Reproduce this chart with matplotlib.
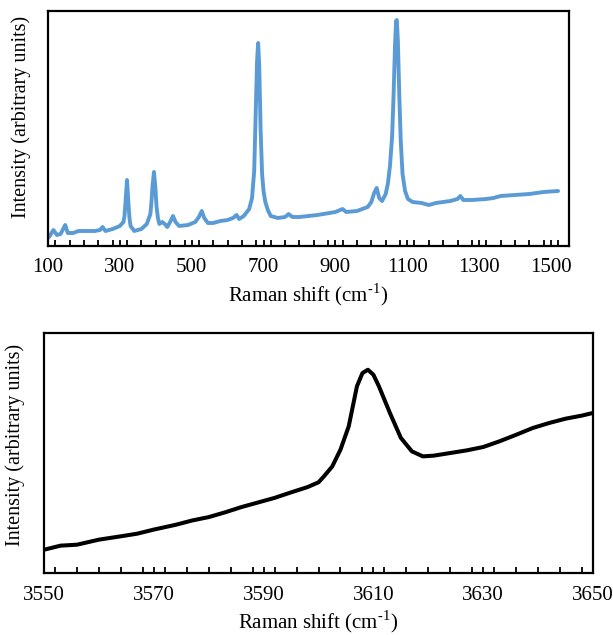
import numpy as np
import matplotlib
matplotlib.use('Agg')
import matplotlib.pyplot as plt
from matplotlib.ticker import MultipleLocator

# top spectrum (arbitrary units)
shift_lo = [100, 105, 115, 125, 135, 148, 155, 170, 185, 200, 230, 245, 252, 260,
            280, 300, 310, 313, 316, 320, 324, 327, 330, 340, 360, 375, 385, 388, 391,
            395, 399, 402, 406, 410, 418, 425, 432, 440, 448, 455, 465, 490, 510, 520,
            528, 535, 545, 560, 580, 600, 615, 625, 632, 645, 660, 668, 674, 678, 682,
            685, 688, 692, 696, 700, 705, 712, 720, 740, 760, 770, 780, 800, 850, 900,
            920, 930, 960, 990, 1000, 1008, 1015, 1022, 1030, 1040, 1046, 1052, 1058,
            1062, 1066, 1069, 1071, 1074, 1078, 1082, 1087, 1094, 1102, 1115, 1140,
            1160, 1180, 1220, 1240, 1248, 1256, 1280, 1320, 1340, 1360, 1400, 1440,
            1480, 1520]
int_lo = [8, 10, 16, 11, 12, 21, 13, 13, 15, 15, 15, 16, 19, 15,
          17, 20, 24, 30, 45, 66, 42, 27, 20, 15, 17, 22, 32, 44, 60,
          74, 58, 40, 28, 22, 24, 22, 19, 24, 30, 24, 20, 21, 24, 29,
          35, 28, 23, 23, 25, 26, 28, 31, 27, 30, 37, 48, 75, 130, 185,
          203, 180, 115, 72, 55, 44, 36, 30, 28, 29, 32, 29, 29, 31, 34,
          37, 34, 35, 39, 44, 53, 58, 48, 45, 52, 62, 80, 110,
          150, 200, 225, 226, 205, 150, 105, 72, 55, 47, 44, 43,
          41, 43, 45, 47, 50, 46, 46, 47, 48, 50, 51, 52,
          54, 55]

# bottom spectrum, O-H stretch region
shift_hi = [3550, 3553, 3556, 3560, 3564, 3567, 3570, 3574, 3577, 3580, 3583, 3586,
            3589, 3592, 3595, 3598, 3600, 3601, 3602.5, 3604, 3605.5, 3607, 3608,
            3609, 3610, 3611, 3613, 3615, 3617, 3619, 3621, 3624, 3627, 3630, 3633,
            3636, 3639, 3642, 3645, 3648, 3650]
int_hi = [9.7, 11.4, 11.8, 13.9, 15.3, 16.4, 18.1, 20.1, 21.9, 23.3, 25.3, 27.5,
          29.4, 31.3, 33.6, 35.8, 37.8, 40.3, 44.4, 51.4, 61.1, 77.8, 83.3,
          84.7, 82.6, 77.8, 66.7, 56.3, 50.7, 48.6, 48.9, 50.0, 51.1, 52.5, 54.9,
          57.6, 60.4, 62.5, 64.3, 65.6, 66.7]

plt.rcParams['font.family'] = ['Liberation Serif', 'DejaVu Serif']
plt.rcParams['font.size'] = 15
plt.rcParams['mathtext.fontset'] = 'custom'
plt.rcParams['mathtext.rm'] = 'Liberation Serif'

fig = plt.figure(figsize=(6.13, 6.35), dpi=100)
ax1 = fig.add_axes([0.0783, 0.6126, 0.8497, 0.3701])
ax2 = fig.add_axes([0.0718, 0.0976, 0.8956, 0.3780])

ax1.plot(shift_lo, int_lo, color='#5b9bd5', lw=2.8, solid_joinstyle='round', solid_capstyle='round')
ax1.set_xlim(100, 1550)
ax1.set_ylim(0, 235)
ax1.set_xticks([100, 300, 500, 700, 900, 1100, 1300, 1500])
ax1.xaxis.set_minor_locator(MultipleLocator(40))

ax2.plot(shift_hi, int_hi, color='black', lw=2.9, solid_joinstyle='round', solid_capstyle='round')
ax2.set_xlim(3550, 3650)
ax2.set_ylim(0, 100)
ax2.set_xticks([3550, 3570, 3590, 3610, 3630, 3650])
ax2.xaxis.set_minor_locator(MultipleLocator(4))

for ax in (ax1, ax2):
    ax.set_yticks([])
    for s in ax.spines.values():
        s.set_linewidth(1.6)
    ax.tick_params(axis='x', which='both', direction='in', length=4, width=1.3, pad=9, labelsize=15)
    ax.set_xlabel('Raman shift (cm$^{\\text{-1}}$)', labelpad=3, fontsize=15)
    ax.set_ylabel('Intensity (arbitrary units)', fontsize=14.5)

ax1.yaxis.set_label_coords(-0.033, 0.55)
ax2.yaxis.set_label_coords(-0.035, 0.535)

fig.savefig('out.png', dpi=100)
